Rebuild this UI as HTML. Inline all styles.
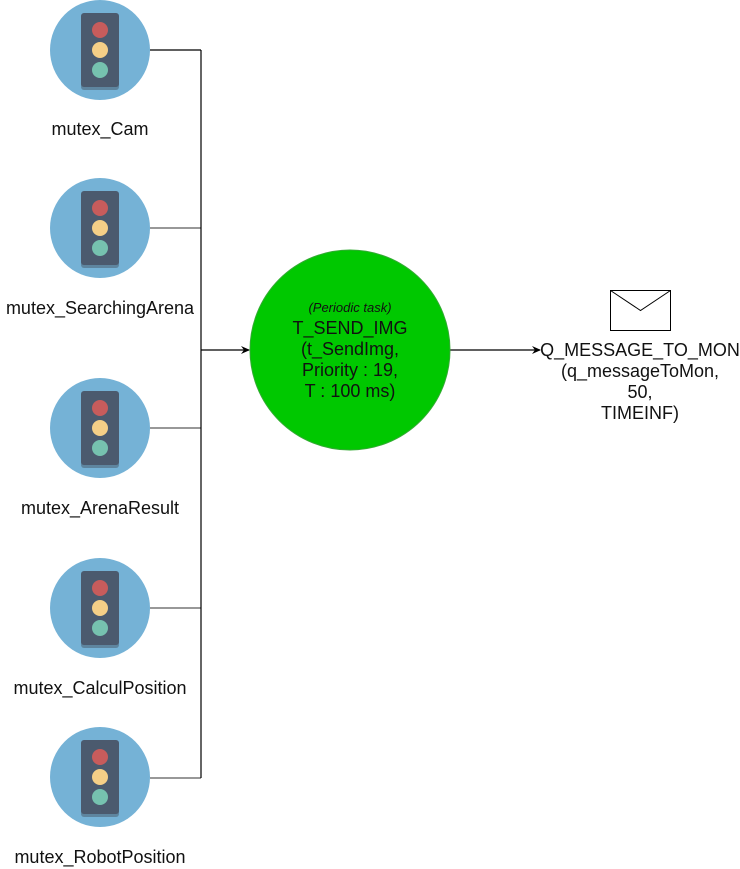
<!DOCTYPE html>
<html><head><meta charset="utf-8"><style>
html,body{margin:0;padding:0;background:#fff;}
svg{display:block;}
text{font-family:"Liberation Sans",Arial,sans-serif;}
</style></head><body>
<svg width="740" height="869" viewBox="0 0 740 869" xmlns="http://www.w3.org/2000/svg">
<defs>
<g id="tl">
  <circle cx="0" cy="0" r="50" fill="#75b2d6"/>
  <rect x="-19" y="-35" width="38" height="75" rx="3" fill="#4b6072" opacity="0.55"/>
  <rect x="-19" y="-37" width="38" height="74" rx="3" fill="#4b5a6e"/>
  <circle cx="0" cy="-20" r="8" fill="#c75c5c"/>
  <circle cx="0" cy="0" r="8" fill="#f5cf87"/>
  <circle cx="0" cy="20" r="8" fill="#76c2af"/>
</g>
<marker id="ar" markerWidth="10" markerHeight="10" refX="8" refY="5" orient="auto" markerUnits="userSpaceOnUse">
  <path d="M0,1 L9,5 L0,9 L3,5 Z" fill="#000"/>
</marker>
</defs>
<g stroke="#000" stroke-width="1.2" fill="none">
  <line x1="150" y1="50" x2="201" y2="50"/>
  <line x1="150" y1="228" x2="201" y2="228" stroke="#777" stroke-width="1.5"/>
  <line x1="150" y1="428" x2="201" y2="428" stroke="#777" stroke-width="1.5"/>
  <line x1="150" y1="608" x2="201" y2="608" stroke="#777" stroke-width="1.5"/>
  <line x1="150" y1="778" x2="201" y2="778" stroke="#777" stroke-width="1.5"/>
  <line x1="201" y1="50" x2="201" y2="778"/>
  <line x1="201" y1="350" x2="249" y2="350" marker-end="url(#ar)"/>
  <line x1="450" y1="350" x2="540" y2="350" marker-end="url(#ar)"/>
</g>
<use href="#tl" x="100" y="50"/>
<use href="#tl" x="100" y="228"/>
<use href="#tl" x="100" y="428"/>
<use href="#tl" x="100" y="608"/>
<use href="#tl" x="100" y="777"/>
<g font-size="18" fill="#111" text-anchor="middle">
  <text x="100" y="135">mutex_Cam</text>
  <text x="100" y="314">mutex_SearchingArena</text>
  <text x="100" y="514">mutex_ArenaResult</text>
  <text x="100" y="694">mutex_CalculPosition</text>
  <text x="100" y="863">mutex_RobotPosition</text>
</g>
<circle cx="350" cy="350" r="100" fill="#00c800" stroke="#33aa33" stroke-width="1"/>
<g text-anchor="middle" fill="#111">
  <text x="350" y="312" font-size="13" font-style="italic">(Periodic task)</text>
  <text x="350" y="334" font-size="18">T_SEND_IMG</text>
  <text x="350" y="355" font-size="18">(t_SendImg,</text>
  <text x="350" y="376" font-size="18">Priority : 19,</text>
  <text x="350" y="397" font-size="18">T : 100 ms)</text>
</g>
<rect x="610.5" y="290.5" width="60" height="40" fill="#fff" stroke="#000" stroke-width="1"/>
<polyline points="610.5,290.5 640.5,310.5 670.5,290.5" fill="none" stroke="#000" stroke-width="1"/>
<g text-anchor="middle" fill="#111" font-size="18">
  <text x="640" y="356">Q_MESSAGE_TO_MON</text>
  <text x="640" y="377">(q_messageToMon,</text>
  <text x="640" y="398">50,</text>
  <text x="640" y="419">TIMEINF)</text>
</g>
</svg>
</body></html>
